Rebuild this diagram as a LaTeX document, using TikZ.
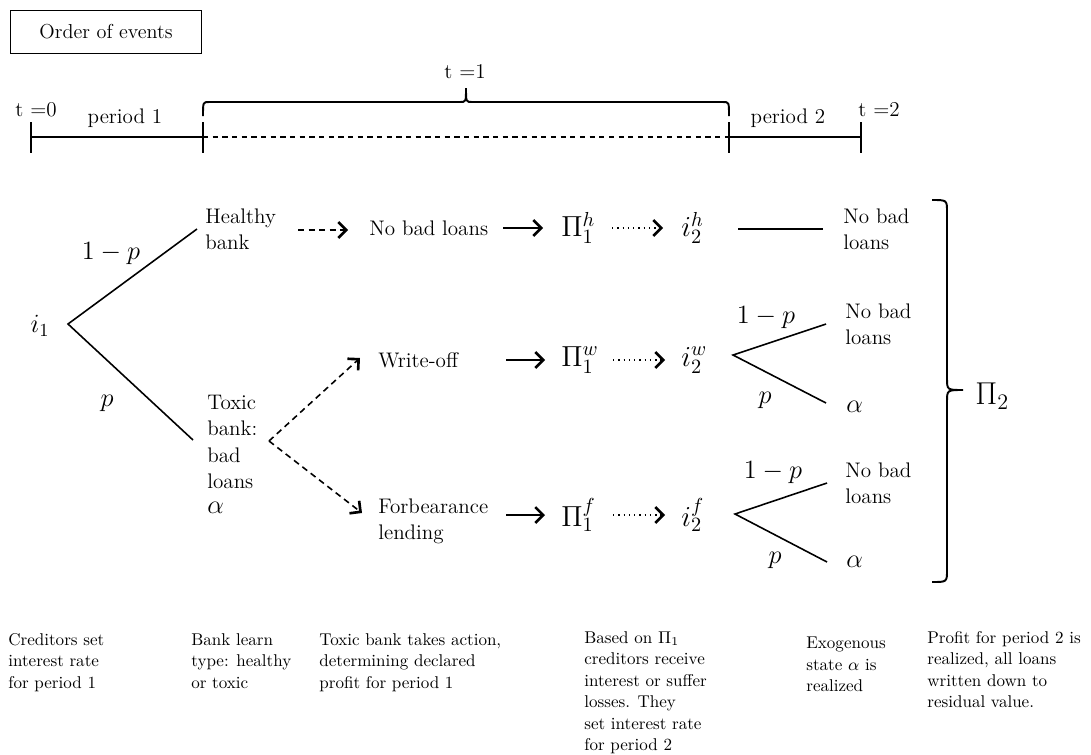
\RequirePackage{fix-cm}
\documentclass[tikz,border=0pt]{standalone}
\usetikzlibrary{arrows.meta}
\tikzset{
  treetext/.style={font=\fontsize{12}{14.3}\selectfont, inner sep=0pt, align=left},
  mth/.style={font=\fontsize{15}{18}\selectfont, inner sep=0pt},
  bignum/.style={font=\fontsize{16.5}{18}\selectfont, inner sep=0pt},
  notetext/.style={font=\fontsize{9.7}{12.25}\selectfont, inner sep=0pt, align=left, anchor=north west},
  tltext/.style={font=\fontsize{12}{14}\selectfont, inner sep=0pt},
  branch/.style={line width=0.9pt},
  tlline/.style={line width=1.1pt},
  barbtip/.style={-{Straight Barb[length=4.5pt,width=9pt,line width=1.5pt]}},
  dasharrow/.style={line width=0.9pt, dash pattern=on 3.5pt off 2.5pt, barbtip},
  solidarrow/.style={line width=1.2pt, barbtip},
  dotarrow/.style={line width=1.1pt, dash pattern=on 0.8pt off 2.2pt, barbtip},
}
\begin{document}
\begin{tikzpicture}[x=0.02cm,y=-0.02cm]
\useasboundingbox (0,0) rectangle (1091,754);

% title
\node[draw, line width=0.7pt, minimum width=3.81cm, minimum height=0.85cm,
      font=\fontsize{11.5}{14}\selectfont] (title) at (106,32) {Order of events};

% timeline
\coordinate (t0a) at (31,122);  \coordinate (t0b) at (31,153);  \coordinate (t0) at (31,137);
\coordinate (t1a) at (203,122); \coordinate (t1b) at (203,153); \coordinate (t1) at (203,137);
\coordinate (t2a) at (729,122); \coordinate (t2b) at (729,153); \coordinate (t2) at (729,137);
\coordinate (t3a) at (861,122); \coordinate (t3b) at (861,153); \coordinate (t3) at (861,137);
\draw[tlline] (t0a) -- (t0b);
\draw[tlline] (t1a) -- (t1b);
\draw[tlline] (t2a) -- (t2b);
\draw[tlline] (t3a) -- (t3b);
\draw[tlline] (t0) -- (t1);
\draw[tlline, dash pattern=on 3pt off 2.5pt] (t1) -- (t2);
\draw[tlline] (t2) -- (t3);
\node[tltext] (lt0) at (36,110) {t =0};
\node[tltext] (lp1) at (125,118) {period 1};
\node[tltext] (lt1) at (465,72) {t =1};
\node[tltext] (lp2) at (788,118) {period 2};
\node[tltext] (lt2) at (879,110) {t =2};

% brace over t=1
\coordinate (bl) at (203,116);
\coordinate (bt) at (466,88);
\coordinate (br) at (729,116);
\draw[tlline] (bl) .. controls (203,102) .. (209,102) -- (460,102)
   .. controls (466,102) .. (bt) .. controls (466,102) .. (472,102)
   -- (723,102) .. controls (729,102) .. (br);

% first tree
\node[mth] (i1) at (40,326) {$i_1$};
\coordinate (r1) at (68,324);
\coordinate (hbend) at (197,229);
\coordinate (tbend) at (193,440);
\draw[branch] (hbend) -- (r1) -- (tbend);
\node[mth] (l1p) at (111,254) {$1-p$};
\node[mth] (lp) at (107,403) {$p$};
\node[treetext, anchor=north west] (healthy) at (205,209) {Healthy\\bank};
\node[treetext, anchor=north west, font=\fontsize{12}{14.9}\selectfont] (toxic) at (207,395) {Toxic\\bank:\\bad\\loans};
\node[mth, anchor=west] (alpha0) at (207,508) {$\alpha$};

% actions
\coordinate (hda) at (298,230); \coordinate (hdb) at (348,230);
\draw[dasharrow] (hda) -- (hdb);
\node[treetext, anchor=west] (nbl) at (369,228) {No bad loans};
\coordinate (tv) at (269,441);
\coordinate (wtip) at (360,358);
\coordinate (ftip) at (362,513);
\draw[dasharrow] (tv) -- (wtip);
\draw[dasharrow] (tv) -- (ftip);
\node[treetext, anchor=west] (wo) at (378,360) {Write-off};
\node[treetext, anchor=north west] (fb) at (378,499) {Forbearance\\lending};

% row h
\coordinate (sha) at (503,228); \coordinate (shb) at (543,228);
\draw[solidarrow] (sha) -- (shb);
\node[bignum, anchor=west] (pih) at (561,228) {$\Pi_1^h$};
\coordinate (dha) at (612,228); \coordinate (dhb) at (663,228);
\draw[dotarrow] (dha) -- (dhb);
\node[bignum, anchor=west] (i2h) at (681,228) {$i_2^h$};
% row w
\coordinate (swa) at (506,360); \coordinate (swb) at (545,360);
\draw[solidarrow] (swa) -- (swb);
\node[bignum, anchor=west] (piw) at (561,360) {$\Pi_1^w$};
\coordinate (dwa) at (613,360); \coordinate (dwb) at (665,360);
\draw[dotarrow] (dwa) -- (dwb);
\node[bignum, anchor=west] (i2w) at (681,360) {$i_2^w$};
% row f
\coordinate (sfa) at (506,515); \coordinate (sfb) at (545,515);
\draw[solidarrow] (sfa) -- (sfb);
\node[bignum, anchor=west] (pif) at (561,515) {$\Pi_1^f$};
\coordinate (dfa) at (613,515); \coordinate (dfb) at (665,515);
\draw[dotarrow] (dfa) -- (dfb);
\node[bignum, anchor=west] (i2f) at (681,515) {$i_2^f$};

% period 2 outcomes
\coordinate (hla) at (738,229); \coordinate (hlb) at (823,229);
\draw[branch] (hla) -- (hlb);
\node[treetext, anchor=north west] (nbh) at (843,209) {No bad\\loans};

\coordinate (wv) at (733,355);
\coordinate (wup) at (826,324);
\coordinate (wdn) at (826,403);
\draw[branch] (wup) -- (wv) -- (wdn);
\node[mth] (w1p) at (766,318) {$1-p$};
\node[mth] (wp) at (765,400) {$p$};
\node[treetext, anchor=north west] (nbw) at (845,304) {No bad\\loans};
\node[mth, anchor=west] (alw) at (846,407) {$\alpha$};

\coordinate (fv) at (735,514);
\coordinate (fup) at (827,483);
\coordinate (fdn) at (827,562);
\draw[branch] (fup) -- (fv) -- (fdn);
\node[mth] (f1p) at (773,473) {$1-p$};
\node[mth] (fp) at (775,560) {$p$};
\node[treetext, anchor=north west] (nbf) at (845,463) {No bad\\loans};
\node[mth, anchor=west] (alf) at (846,562) {$\alpha$};

% right brace
\coordinate (rbt) at (932,200);
\coordinate (rbm) at (963,390);
\coordinate (rbb) at (932,582);
\draw[line width=1.1pt] (rbt) .. controls (947,200) .. (947,212) -- (947,378)
   .. controls (947,390) .. (rbm) .. controls (947,390) .. (947,402)
   -- (947,570) .. controls (947,582) .. (rbb);
\node[font=\fontsize{18}{20}\selectfont, inner sep=0pt, anchor=west] (pi2) at (975,396) {$\Pi_2$};

% notes
\node[notetext] (n1) at (8,633) {Creditors set\\interest rate\\for period 1};
\node[notetext] (n2) at (191,633) {Bank learn\\type: healthy\\or toxic};
\node[notetext] (n3) at (319,633) {Toxic bank takes action,\\determining declared\\profit for period 1};
\node[notetext] (n4) at (584,631) {Based on $\Pi_1$\\creditors receive\\interest or suffer\\losses. They\\set interest rate\\for period 2};
\node[notetext] (n5) at (806,637) {Exogenous\\state $\alpha$ is\\realized};
\node[notetext] (n6) at (927,631) {Profit for period 2 is\\realized, all loans\\written down to\\residual value.};
\end{tikzpicture}
\end{document}
